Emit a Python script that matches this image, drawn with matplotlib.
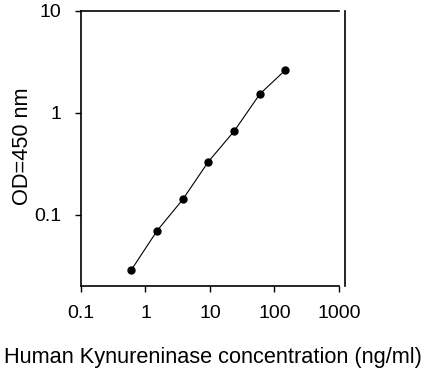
import matplotlib
matplotlib.use("Agg")
import matplotlib.pyplot as plt

conc = [0.606, 1.52, 3.79, 9.47, 23.7, 59.2, 148]
od = [0.0289, 0.070, 0.1416, 0.333, 0.662, 1.53, 2.64]
xticks = [0.1, 1, 10, 100, 1000]
xticklabels = ["0.1", "1", "10", "100", "1000"]
yticks = [0.1, 1, 10]
yticklabels = ["0.1", "1", "10"]

plt.rcParams['font.family'] = ['Liberation Sans', 'DejaVu Sans']
W, H = 427, 374
fig = plt.figure(figsize=(W/100, H/100), dpi=100)
ax = fig.add_axes([81/W, 1-286/H, (339-81)/W, (286-11)/H])
ax.plot(conc, od, color='black', lw=0.8, marker='o', ms=5, mfc='black', mec='black')
ax.set_xscale('log')
ax.set_yscale('log')
ax.set_xlim(0.1, 1000)
ax.set_ylim(0.02, 10)
ax.minorticks_off()
ax.set_xticks(xticks)
ax.set_xticklabels(xticklabels)
ax.set_yticks(yticks)
ax.set_yticklabels(yticklabels)
ax.tick_params(axis='both', direction='out', length=4, width=1, labelsize=14, pad=10)
ax.tick_params(axis='x', pad=10)
ax.tick_params(which='minor', length=0)
for s in ax.spines.values():
    s.set_linewidth(1.2)
ax.spines['right'].set_position(('outward', 4))
fig.text(213/W, 1-357/H, "Human Kynureninase concentration (ng/ml)", fontsize=15.7,
         ha='center', va='center')
fig.text(23/W, 1-146/H, "OD=450 nm", fontsize=15.7, rotation=90, ha='center', va='center')
fig.savefig("out.png", dpi=100)
